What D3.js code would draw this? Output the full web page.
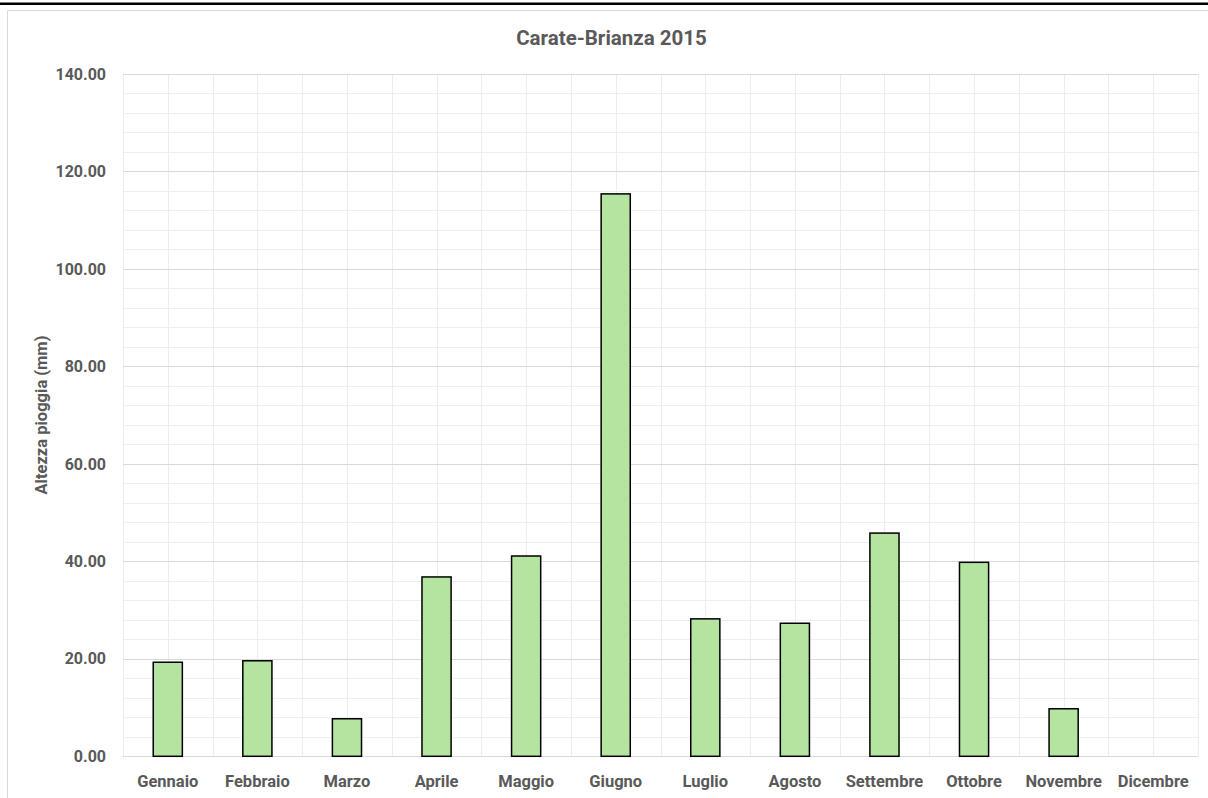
<!DOCTYPE html>
<html><head><meta charset="utf-8">
<script src="https://cdn.jsdelivr.net/npm/d3@7"></script>
<style>html,body{margin:0;padding:0;background:#fff;}svg{display:block;}</style>
</head><body>
<svg id="c" width="1208" height="798"></svg>
<script>
const months = ["Gennaio","Febbraio","Marzo","Aprile","Maggio","Giugno","Luglio","Agosto","Settembre","Ottobre","Novembre","Dicembre"];
const rain = [19.3,19.6,7.7,36.8,41.1,115.4,28.2,27.3,45.8,39.8,9.75,0];
const yTicks = [0,20,40,60,80,100,120,140];
const title = "Carate-Brianza 2015";
const yTitle = "Altezza pioggia (mm)";

const svg = d3.select("#c");
const font = "Roboto, 'Noto Sans', sans-serif";
const txt = "#595959";

svg.append("rect").attr("x",0).attr("y",2.5).attr("width",1208).attr("height",2.5).attr("fill","#000");
svg.append("path").attr("d","M7.5,798 V10.5 H1208").attr("fill","none").attr("stroke","#d9d9d9").attr("stroke-width",1);

const m = {l:123, r:1198, t:74, b:756.3};
const x = d3.scaleBand().domain(months).range([m.l,m.r]).paddingInner(0.675).paddingOuter(0.3375);
const xb = d3.scaleBand().domain(months).range([m.l,m.r]);
const y = d3.scaleLinear().domain([0,140]).range([m.b,m.t]);

const g = svg.append("g");
g.selectAll(".hmin").data(d3.range(0,141,4).filter(v=>v%20!==0)).join("line")
 .attr("x1",m.l).attr("x2",m.r).attr("y1",d=>Math.round(y(d))+0.5).attr("y2",d=>Math.round(y(d))+0.5)
 .attr("stroke","#efefef").attr("stroke-width",1);
const vx = [];
months.forEach(mo=>{vx.push(xb(mo)); vx.push(xb(mo)+xb.bandwidth()/2);});
vx.push(m.r);
g.selectAll(".v").data(vx).join("line")
 .attr("x1",d=>Math.round(d)+0.5).attr("x2",d=>Math.round(d)+0.5).attr("y1",m.t).attr("y2",m.b)
 .attr("stroke","#ececec").attr("stroke-width",1);
g.selectAll(".hmaj").data(yTicks).join("line")
 .attr("x1",m.l).attr("x2",m.r).attr("y1",d=>Math.round(y(d))+0.5).attr("y2",d=>Math.round(y(d))+0.5)
 .attr("stroke","#d9d9d9").attr("stroke-width",1);

svg.append("g").selectAll("rect").data(months.map((mo,i)=>({mo,v:rain[i]})).filter(d=>d.v>0)).join("rect")
 .attr("x",d=>x(d.mo)).attr("width",x.bandwidth())
 .attr("y",d=>y(d.v)).attr("height",d=>y(0)-y(d.v))
 .attr("fill","#b5e4a1").attr("stroke","#000").attr("stroke-width",1.5);

const ya = d3.axisLeft(y).tickValues(yTicks).tickFormat(d3.format(".2f")).tickSize(0).tickPadding(0);
const yg = svg.append("g").attr("transform",`translate(106,0)`).call(ya);
yg.select(".domain").remove();
yg.selectAll("text").attr("font-family",font).attr("font-size",16).attr("font-weight","bold").attr("fill",txt);

const xa = d3.axisBottom(xb).tickSize(0).tickPadding(0);
const xg = svg.append("g").attr("transform",`translate(0,787)`).call(xa);
xg.select(".domain").remove();
xg.selectAll("text").attr("dy",0).attr("font-family",font).attr("font-size",16.5).attr("font-weight","bold").attr("fill",txt);

svg.append("text").attr("x",611.5).attr("y",45).attr("text-anchor","middle")
 .attr("font-family",font).attr("font-size",20.5).attr("font-weight","bold").attr("fill",txt).text(title);

svg.append("text").attr("transform","translate(47,415) rotate(-90)").attr("text-anchor","middle")
 .attr("font-family",font).attr("font-size",16.5).attr("font-weight","bold").attr("fill",txt).text(yTitle);
</script>
</body></html>
